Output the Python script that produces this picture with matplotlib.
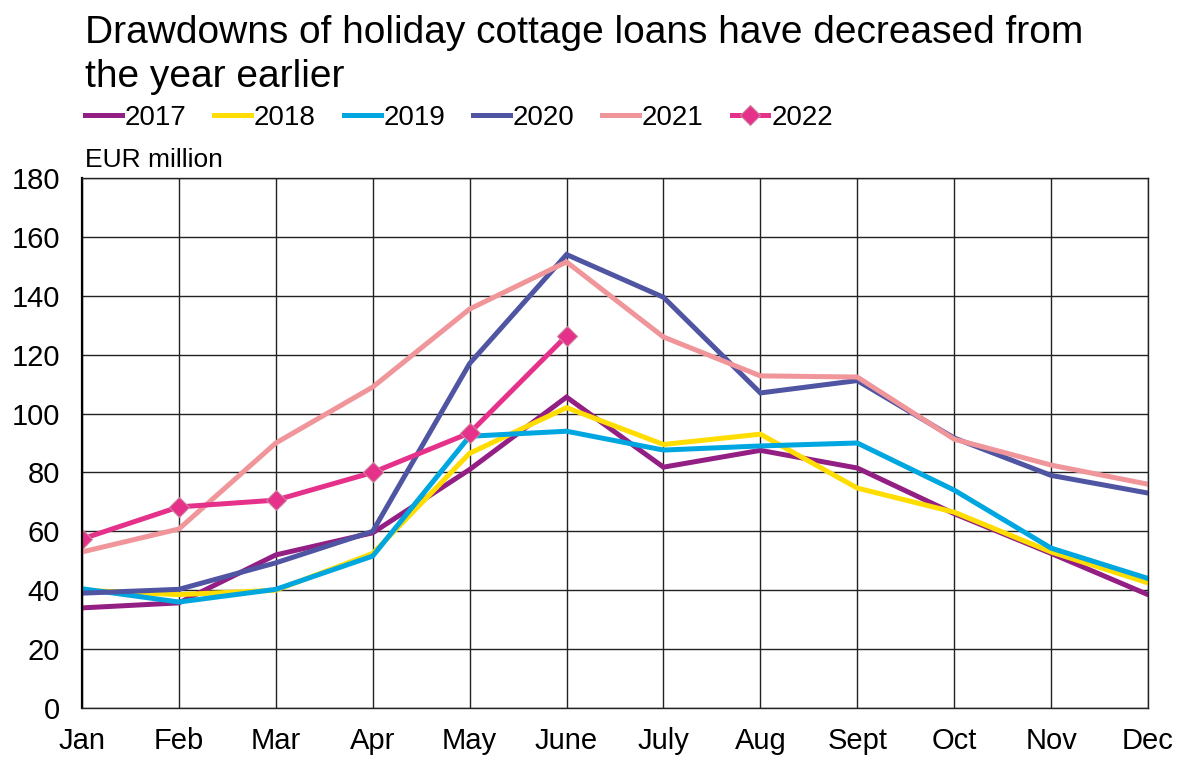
import matplotlib
matplotlib.use("Agg")
import matplotlib.pyplot as plt

plt.rcParams['font.family'] = ['Liberation Sans', 'DejaVu Sans']

months = ["Jan", "Feb", "Mar", "Apr", "May", "June", "July", "Aug", "Sept", "Oct", "Nov", "Dec"]
y2017 = [34, 35.7, 52, 59.5, 81, 105.6, 81.8, 87.5, 81.5, 66, 52.5, 38.5]
y2018 = [40, 38.5, 40, 52.5, 86.5, 102, 89.5, 93, 74.7, 66.5, 53, 42.5]
y2019 = [40.5, 36, 40.3, 51.6, 92.3, 94, 87.6, 89, 90, 74, 54.3, 44]
y2020 = [39, 40.3, 49.3, 60, 117, 154, 139.5, 107, 111.2, 91.7, 79, 73]
y2021 = [53, 60.8, 90, 109, 135.5, 151.5, 126, 112.8, 112.4, 91.3, 82.5, 76]
y2022 = [57.4, 68.3, 70.6, 80, 93.4, 126.4]
series_labels = ["2017", "2018", "2019", "2020", "2021", "2022"]
colors = ["#931F84", "#FFDD00", "#00A6E0", "#4F55A2", "#F0959A", "#E5318A"]

W, H = 1182, 757
fig = plt.figure(figsize=(W / 100, H / 100), dpi=100)
ax = fig.add_axes([82 / W, 1 - 708 / H, (1148 - 82) / W, (708 - 178) / H])

x = list(range(len(months)))
data = [y2017, y2018, y2019, y2020, y2021]
for vals, lab, c in zip(data, series_labels[:5], colors[:5]):
    ax.plot(x[:len(vals)], vals, color=c, lw=3.6, label=lab, solid_joinstyle='miter')
ax.plot(x[:len(y2022)], y2022, color=colors[5], lw=3.6, label=series_labels[5],
        marker='D', markersize=10, markerfacecolor=colors[5], markeredgecolor='#C9849F',
        markeredgewidth=0.8)

ax.set_xlim(0, 11)
ax.set_ylim(0, 180)
ax.set_yticks(range(0, 181, 20))
ax.set_xticks(x)
ax.set_xticklabels(months)
ax.tick_params(axis='both', length=0, labelsize=21)
ax.tick_params(axis='x', pad=14)
ax.tick_params(axis='y', pad=16)
ax.grid(True, color='#222222', lw=1.0)
ax.set_axisbelow(True)
for s in ax.spines.values():
    s.set_color('#222222')
    s.set_linewidth(1.0)
ax.spines['left'].set_linewidth(1.6)
ax.spines['left'].set_color('black')

fig.text(85 / W, 1 - 43 / H, "Drawdowns of holiday cottage loans have decreased from",
         fontsize=28, va='baseline', ha='left')
fig.text(85 / W, 1 - 87 / H, "the year earlier",
         fontsize=28, va='baseline', ha='left')
fig.text(85 / W, 1 - 167 / H, "EUR million", fontsize=19, va='baseline', ha='left')

leg = fig.legend(loc='center left', bbox_to_anchor=(85 / W, 1 - 118 / H), ncol=6, frameon=False,
                 fontsize=20, handlelength=1.33, handletextpad=0.1, columnspacing=1.0,
                 borderaxespad=0, borderpad=0)

fig.savefig("out.png", dpi=100)
